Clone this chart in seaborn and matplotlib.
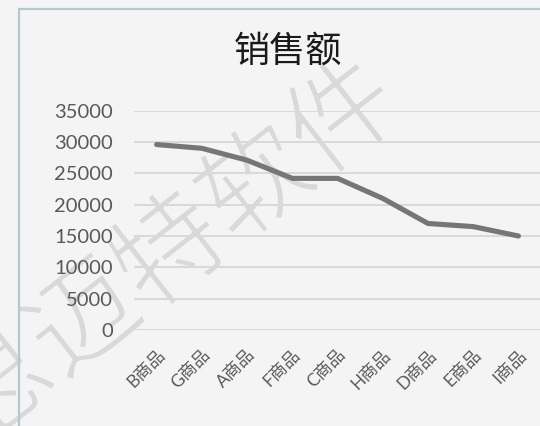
import matplotlib
matplotlib.use("Agg")
import matplotlib.pyplot as plt
import matplotlib.patheffects as pe
import seaborn as sns
import pandas as pd
from matplotlib.patches import Rectangle

categories = ["B商品", "G商品", "A商品", "F商品", "C商品", "H商品", "D商品", "E商品", "I商品"]
sales = [29600, 29000, 27100, 24200, 24200, 21000, 17000, 16500, 15000]
yticks = [0, 5000, 10000, 15000, 20000, 25000, 30000, 35000]
title = "销售额"
watermark = "思迈特软件"

sns.set_theme(style="white")
plt.rcParams['font.family'] = ['Lato', 'Noto Sans CJK SC', 'DejaVu Sans']

df = pd.DataFrame({"cat": categories, "sales": sales})

bg = "#f4f4f4"
fig = plt.figure(figsize=(5.4, 4.26), dpi=100)
fig.patch.set_facecolor(bg)

# watermark (thinned with a background-coloured stroke)
fig.text(172/540, 1 - 255/426, watermark, rotation=38, ha="center", va="center",
         fontsize=79, color="#d9d9d9", family=['Noto Sans CJK SC'],
         path_effects=[pe.Stroke(linewidth=2.2, foreground=bg)], zorder=0.3)

# chart border
fig.add_artist(Rectangle((19.5/540, -0.1), 1.2, 1 - 8.5/426 + 0.1, transform=fig.transFigure,
                         fill=False, edgecolor="#b6c8cc", linewidth=1.6, zorder=0.5))

ax = fig.add_axes([134/540, 1 - 330/426, 1.0 - 134/540 + 0.002, (330 - 110.7)/426])
ax.set_facecolor("none")
ax.set_zorder(1)

sns.lineplot(data=df, x="cat", y="sales", ax=ax, color="#767676", linewidth=3.7,
             sort=False, solid_capstyle="round", solid_joinstyle="round")

ax.set_ylim(0, 35000)
ax.set_xlim(-0.5, len(categories) - 0.5)
ax.set_yticks(yticks)
ax.set_yticklabels([str(v) for v in yticks])
ax.grid(axis="y", color="#d9d9d9", linewidth=1.4)
ax.grid(axis="x", visible=False)
for s in ax.spines.values():
    s.set_visible(False)
ax.tick_params(axis="y", length=0, pad=15, labelsize=14.5, labelcolor="#595959")
ax.tick_params(axis="x", length=0, pad=12, labelsize=12.5, labelcolor="#595959")
ax.set_xticks(range(len(categories)))
ax.set_xticklabels(categories, rotation=45, ha="right", rotation_mode="anchor")
ax.set_xlabel("")
ax.set_ylabel("")

fig.text(288/540, 1 - 52/426, title, ha="center", va="center", fontsize=26,
         color="#1a1a1a", family=['Noto Sans CJK SC'])

fig.savefig("out.png", dpi=100, facecolor=fig.get_facecolor())
